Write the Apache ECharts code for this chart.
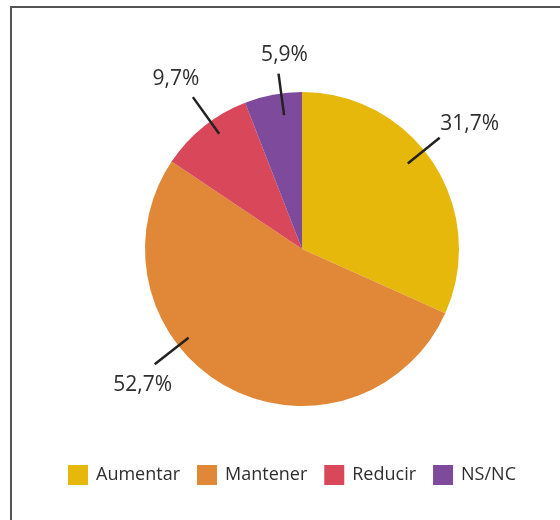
<!DOCTYPE html>
<html>
<head>
<meta charset="utf-8">
<script src="https://cdn.jsdelivr.net/npm/echarts@6/dist/echarts.min.js"></script>
<style>
  html, body { margin: 0; padding: 0; background: #fff; }
  #wrap { position: relative; width: 560px; height: 520px; overflow: hidden; }
  #frame {
    position: absolute; left: 10px; top: 6px; right: -4px; bottom: -4px;
    border-left: 2px solid #555; border-top: 2px solid #555;
  }
  #chart { position: absolute; left: 0; top: 0; width: 560px; height: 520px; }
</style>
</head>
<body>
<div id="wrap">
  <div id="frame"></div>
  <div id="chart"></div>
</div>
<script>
// Share of answers per option (percent)
const categories = ['Aumentar', 'Mantener', 'Reducir', 'NS/NC'];
const values = [31.7, 52.7, 9.7, 5.9];
const colors = ['#E6B80C', '#E08838', '#D9475A', '#7E4A9C'];

// Geometry of the pie and its leader lines
const CX = 302, CY = 249, R = 157;
const lineInner = [136, 144, 142, 135];
const lineOuter = [177, 187, 187, 177];
// angular nudges (degrees) for each leader line
const leaderShift = [-6, 23, 3, 3];
// label centre offset from the outer end of each leader line (px)
const labelNudge = [[30, -14], [-12, 21], [-17, -18], [6, -19]];

const total = values.reduce((a, b) => a + b, 0);
const cumulative = values.map((v, i) => values.slice(0, i).reduce((a, b) => a + b, 0));

function fmt(v) { return v.toFixed(1).replace('.', ',') + '%'; }

const pieData = categories.map((c, i) => ({ name: c, value: values[i] }));

const chart = echarts.init(document.getElementById('chart'), null, { renderer: 'canvas' });

chart.setOption({
  animation: false,
  color: colors,
  textStyle: { fontFamily: 'Open Sans' },
  legend: {
    data: categories,
    left: 68,
    top: 465,
    padding: 0,
    icon: 'rect',
    itemWidth: 20,
    itemHeight: 20,
    itemGap: 17,
    selectedMode: false,
    textStyle: { fontSize: 18, color: '#2e2e2e', fontFamily: 'Open Sans', padding: [0, 0, 0, 3] }
  },
  series: [{
    // coloured slices
    type: 'pie',
    z: 2,
    center: [CX, CY],
    radius: R,
    startAngle: 90,
    clockwise: true,
    emphasis: { disabled: true },
    itemStyle: { borderWidth: 0 },
    label: { show: false },
    labelLine: { show: false },
    data: pieData
  }, {
    // percentage labels with leader lines, drawn above the slices
    type: 'pie',
    z: 3,
    silent: true,
    center: [CX, CY],
    radius: R,
    startAngle: 90,
    clockwise: true,
    avoidLabelOverlap: false,
    emphasis: { disabled: true },
    itemStyle: { color: 'rgba(0,0,0,0)', borderWidth: 0 },
    data: pieData,
    label: {
      show: true,
      position: 'outside',
      formatter: p => fmt(p.value),
      fontSize: 21,
      color: '#2e2e2e',
      fontFamily: 'Open Sans'
    },
    labelLine: {
      show: true,
      length: 10,
      length2: 0,
      lineStyle: { color: '#222', width: 2.5 }
    },
    labelLayout: function (params) {
      const i = params.dataIndex;
      const a = ((cumulative[i] + values[i] / 2) / total * 360 + leaderShift[i]) * Math.PI / 180;
      const ux = Math.sin(a), uy = -Math.cos(a);
      const p1 = [CX + ux * lineInner[i], CY + uy * lineInner[i]];
      const p2 = [CX + ux * lineOuter[i], CY + uy * lineOuter[i]];
      return {
        x: p2[0] + labelNudge[i][0],
        y: p2[1] + labelNudge[i][1],
        align: 'center',
        verticalAlign: 'middle',
        labelLinePoints: [p1, p2, p2]
      };
    }
  }]
});
</script>
</body>
</html>
